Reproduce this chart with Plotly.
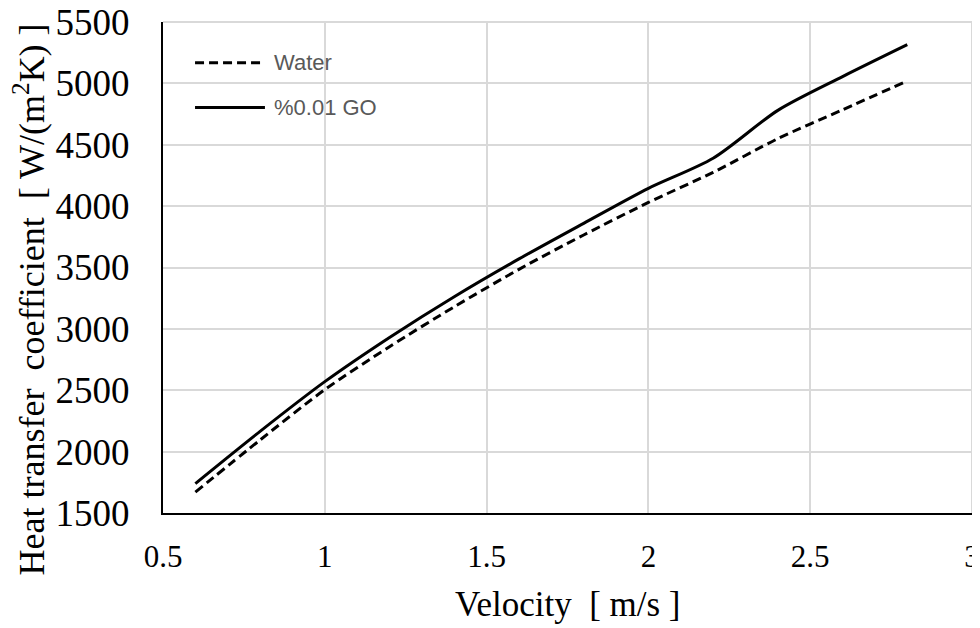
import plotly.graph_objects as go

# velocity [m/s]
velocity = [0.6, 0.8, 1.0, 1.2, 1.4, 1.6, 1.8, 2.0, 2.2, 2.4, 2.6, 2.8]
# heat transfer coefficient [W/(m2K)]
water = [1670, 2095, 2505, 2855, 3180, 3485, 3765, 4030, 4275, 4550, 4785, 5020]
go_001 = [1740, 2165, 2570, 2930, 3262, 3570, 3860, 4145, 4390, 4780, 5055, 5315]

series_names = ["Water", "%0.01 GO"]
x_ticks = [0.5, 1, 1.5, 2, 2.5, 3]
x_ticklabels = ["0.5", "1", "1.5", "2", "2.5", "3"]
y_ticks = [1500, 2000, 2500, 3000, 3500, 4000, 4500, 5000, 5500]

serif = "Liberation Serif, Times New Roman, serif"
sans = "Liberation Sans, Arial, sans-serif"
grid = "#d9d9d9"

fig = go.Figure()
fig.add_trace(go.Scatter(x=velocity, y=water, name=series_names[0], mode="lines",
                         line=dict(color="black", width=3, dash="9px,5px", shape="spline", smoothing=0.8)))
fig.add_trace(go.Scatter(x=velocity, y=go_001, name=series_names[1], mode="lines",
                         line=dict(color="black", width=3, shape="spline", smoothing=0.8)))

# plotly skips grid lines on the plot edges, so draw the top/right ones
fig.add_shape(type="line", xref="paper", yref="paper", x0=0, x1=1, y0=1, y1=1,
              line=dict(color=grid, width=2), layer="below")
fig.add_shape(type="line", xref="paper", yref="paper", x0=1, x1=1, y0=0, y1=1,
              line=dict(color=grid, width=2), layer="below")

# hand-made legend (long line samples like the original)
legend_rows = [(0.917, "9px,5px", series_names[0]), (0.826, "solid", series_names[1])]
for ypos, dash, label in legend_rows:
    fig.add_shape(type="line", xref="paper", yref="paper", x0=0.0396, x1=0.126, y0=ypos, y1=ypos,
                  line=dict(color="black", width=3, dash=dash))
    fig.add_annotation(xref="paper", yref="paper", x=0.1347, y=ypos, text=label, showarrow=False,
                       xanchor="left", yanchor="middle", font=dict(family=sans, size=22, color="#595959"))

fig.add_annotation(xref="paper", yref="paper", x=0.5, y=-0.187, text="Velocity  [ m/s ]",
                   showarrow=False, xanchor="center", yanchor="middle",
                   font=dict(family=serif, size=35, color="black"))
fig.add_annotation(xref="paper", yref="paper", x=-0.165, y=0.434,
                   text="Heat transfer  coefficient  [ W/(m<sup>2</sup>K) ]",
                   textangle=-90, showarrow=False, xanchor="center", yanchor="middle",
                   font=dict(family=serif, size=36, color="black"))

fig.update_xaxes(range=[0.5, 3], tickvals=x_ticks, ticktext=x_ticklabels,
                 showgrid=True, gridcolor=grid, gridwidth=2, automargin=False,
                 showline=True, linecolor="black", linewidth=2, zeroline=False,
                 ticks="", ticklabelstandoff=15, ticklabeloverflow="allow",
                 tickfont=dict(family=serif, size=31, color="black"))
fig.update_yaxes(range=[1500, 5500], tickvals=y_ticks,
                 showgrid=True, gridcolor=grid, gridwidth=2, automargin=False,
                 showline=True, linecolor="black", linewidth=2, zeroline=False,
                 ticks="", ticklabelstandoff=24, ticklabeloverflow="allow",
                 tickfont=dict(family=serif, size=37, color="black"))

# the page body adds an 8px offset, so margins are shifted to compensate
fig.update_layout(width=980, height=628, margin=dict(l=155, r=16, t=14, b=123),
                  plot_bgcolor="white", paper_bgcolor="white", showlegend=False)

fig.write_html("out.html")
